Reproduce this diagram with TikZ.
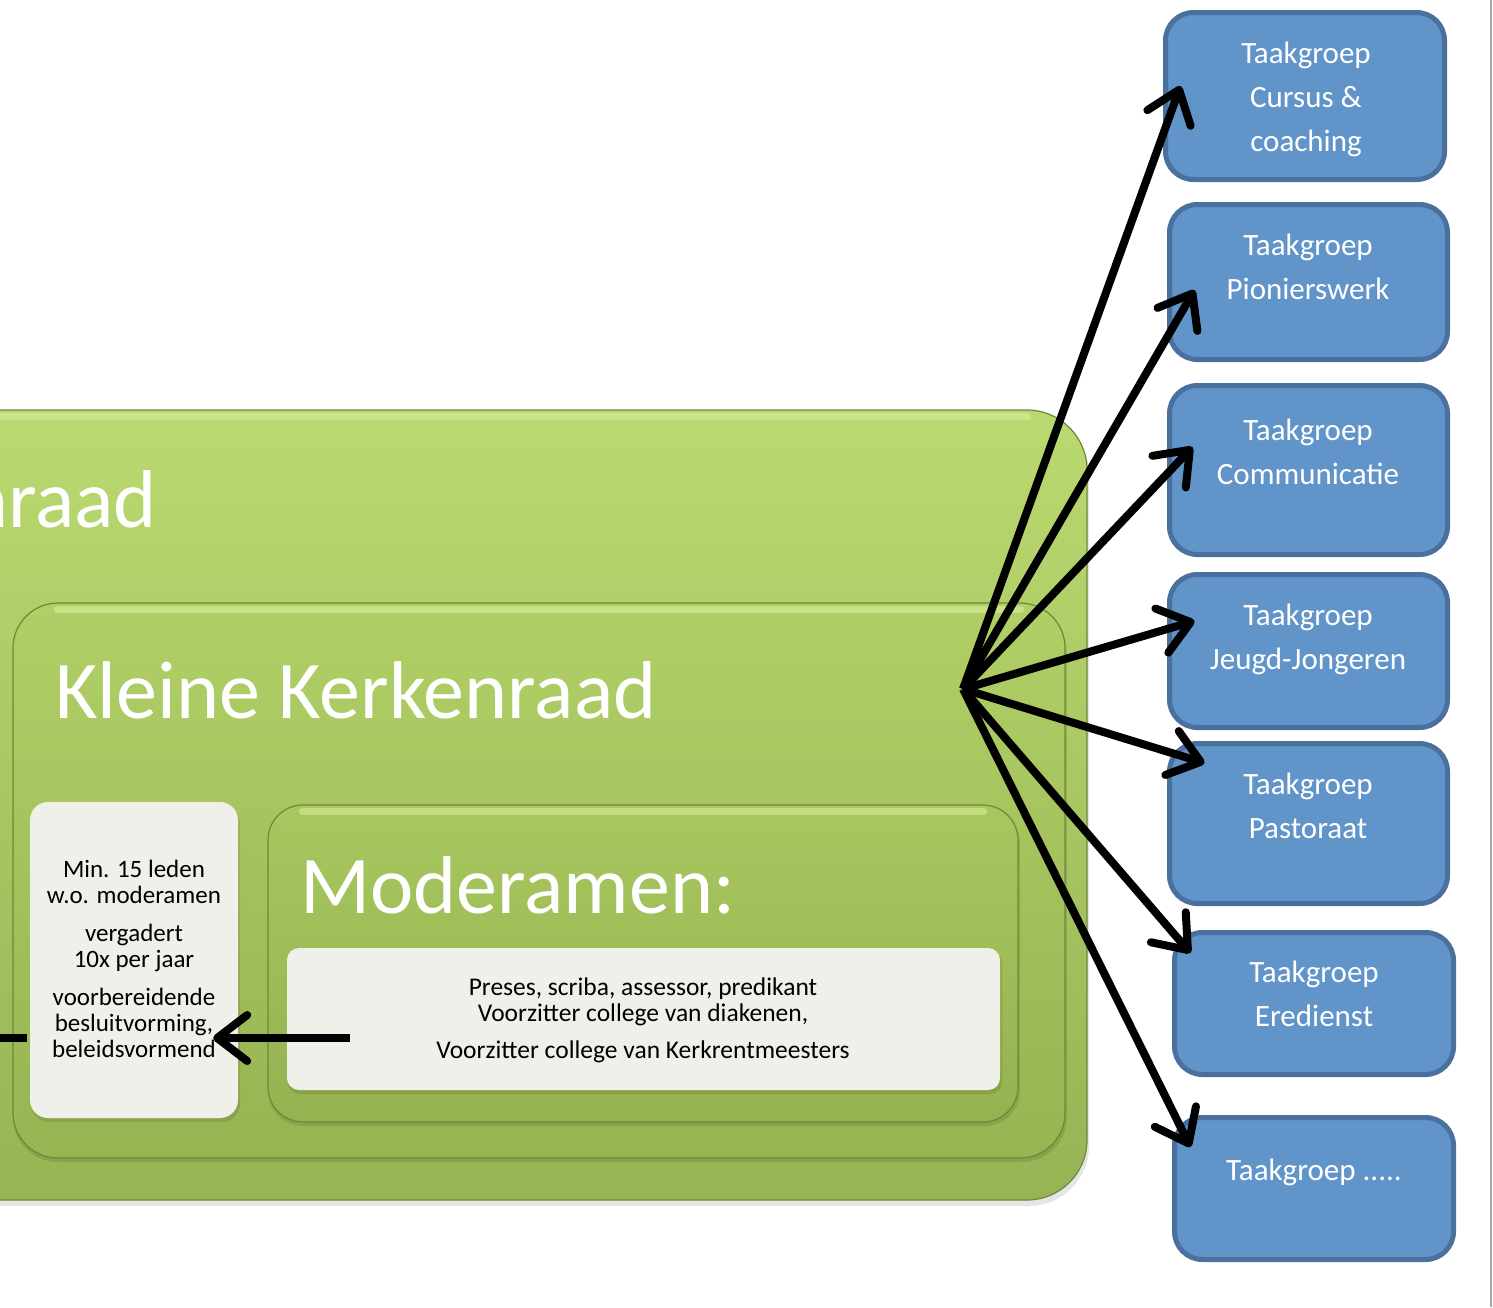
\documentclass[tikz,border=0pt]{standalone}
\usepackage{fontspec}
\setmainfont{Carlito}
\usetikzlibrary{arrows.meta,calc}
\definecolor{gOutTop}{RGB}{186,217,112}
\definecolor{gOutBot}{RGB}{150,180,84}
\definecolor{gKlTop}{RGB}{176,207,102}
\definecolor{gKlBot}{RGB}{150,181,83}
\definecolor{gMoTop}{RGB}{168,199,95}
\definecolor{gMoBot}{RGB}{148,178,80}
\definecolor{gEdge}{RGB}{110,136,58}
\definecolor{gHi}{RGB}{218,236,152}
\definecolor{paper}{RGB}{239,240,234}
\definecolor{tgFill}{RGB}{97,148,201}
\definecolor{tgEdge}{RGB}{74,113,158}
\tikzset{
  greenbox/.style={draw=gEdge, line width=1.2pt, inner sep=0pt},
  gloss/.style={draw=gHi, line width=7pt, opacity=0.6, line cap=round},
  whitebox/.style={fill=paper, draw=none, inner sep=0pt},
  boxshadow/.style={fill=black, opacity=0.10},
  tgbox/.style={draw=tgEdge, fill=tgFill, line width=5pt, rounded corners=28pt, inner sep=0pt},
  tgtext/.style={text=white, font=\fontsize{31}{44}\selectfont, align=center, inner sep=0pt, anchor=north},
  title/.style={text=white, font=\fontsize{82}{90}\selectfont, inner sep=0pt},
  small/.style={text=black, font=\fontsize{25}{26}\selectfont, align=center, inner sep=0pt, anchor=north},
  link/.style={line width=8pt, -{Straight Barb[length=30pt,width=46pt,round]}},
}
\begin{document}
\begin{tikzpicture}[x=1pt,y=-1pt]
\useasboundingbox (0,0) rectangle (1493,1307);
\fill[white] (0,0) rectangle (1493,1307);
\begin{scope}
\clip (0,0) rectangle (1493,1307);
% outer box: Kerkenraad
\fill[boxshadow, rounded corners=60pt] (-80,414) rectangle (1089,1206);
\node[greenbox, top color=gOutTop, bottom color=gOutBot, rounded corners=60pt,
      minimum width=1167pt, minimum height=790pt] (outer) at (503.5,805) {};
\draw[gloss] ($(outer.north west)+(0,7)$) -- ($(outer.north east)+(-60,7)$);
\node[title, anchor=base east] (outertitle) at (157,527) {Kerkenraad};
% Kleine Kerkenraad
\fill[boxshadow, rounded corners=45pt] (13,607) rectangle (1067,1162);
\node[greenbox, top color=gKlTop, bottom color=gKlBot, rounded corners=45pt,
      minimum width=1052pt, minimum height=555pt] (klein) at (539,880.5) {};
\draw[gloss] ($(klein.north west)+(45,7)$) -- ($(klein.north east)+(-45,7)$);
\node[title, anchor=base west] (kleintitle) at (55,718) {Kleine Kerkenraad};
% Moderamen
\fill[boxshadow, rounded corners=35pt] (268,808) rectangle (1020,1126);
\node[greenbox, top color=gMoTop, bottom color=gMoBot, rounded corners=35pt,
      minimum width=750pt, minimum height=317pt] (moder) at (643,963.5) {};
\draw[gloss] ($(moder.north west)+(35,7)$) -- ($(moder.north east)+(-35,7)$);
\node[title, anchor=base west] (modertitle) at (300,913) {Moderamen:};
% white boxes
\fill[boxshadow, rounded corners=12pt] (288,951) rectangle (1002,1094);
\node[whitebox, rounded corners=12pt, minimum width=713pt, minimum height=142pt] (memo) at (643.5,1019) {};
\fill[boxshadow, rounded corners=18pt] (31,805) rectangle (240,1122);
\node[whitebox, rounded corners=18pt, minimum width=208pt, minimum height=316pt] (info) at (134,960) {};
\node[small, font=\fontsize{25.5}{26}\selectfont] (memotext) at (643,977) {\rule{0pt}{18pt}Preses, scriba, assessor, predikant\\Voorzitter college van diakenen,\\[11pt]Voorzitter college van Kerkrentmeesters};
\node[small] (infotext) at (134,859) {\rule{0pt}{18pt}Min. 15 leden\\w.o. moderamen\\[12pt]vergadert\\10x per jaar\\[12pt]voorbereidende\\besluitvorming,\\beleidsvormend};
% stub and arrow on the left
\coordinate (stubL) at (-5,1038);
\coordinate (stubR) at ($(info.west)+(-3,78)$);
\draw[line width=8pt] (stubL) -- (stubR);
\draw[link] ($(memo.west)+(63,19)$) -- ($(info.east)+(-25,78)$);
\end{scope}
% task group boxes
\node[tgbox, minimum width=279pt, minimum height=167pt] (t1) at (1305,96) {};
\node[tgbox, minimum width=278pt, minimum height=155pt] (t2) at (1308.5,282) {};
\node[tgbox, minimum width=278pt, minimum height=169pt] (t3) at (1308.5,470) {};
\node[tgbox, minimum width=278pt, minimum height=153pt] (t4) at (1308.5,651) {};
\node[tgbox, minimum width=278pt, minimum height=160pt] (t5) at (1308.5,823.5) {};
\node[tgbox, minimum width=279pt, minimum height=142pt] (t6) at (1314,1003.5) {};
\node[tgbox, minimum width=279pt, minimum height=142pt] (t7) at (1314,1188.5) {};
\node[tgtext] (t1text) at (1306,39) {\rule{0pt}{24pt}Taakgroep\\Cursus \&\\coaching};
\node[tgtext] (t2text) at (1308,231) {\rule{0pt}{24pt}Taakgroep\\Pionierswerk};
\node[tgtext] (t3text) at (1308,416) {\rule{0pt}{24pt}Taakgroep\\Communicatie};
\node[tgtext] (t4text) at (1308,601) {\rule{0pt}{24pt}Taakgroep\\Jeugd-Jongeren};
\node[tgtext] (t5text) at (1308,770) {\rule{0pt}{24pt}Taakgroep\\Pastoraat};
\node[tgtext] (t6text) at (1314,958) {\rule{0pt}{24pt}Taakgroep\\Eredienst};
\node[tgtext] (t7text) at (1314,1156) {\rule{0pt}{24pt}Taakgroep .....};
% arrows from hub
\coordinate (hub) at (963,689);
\draw[link] (hub) -- ($(t1.west)+(17.5,-10)$);
\draw[link] (hub) -- ($(t2.west)+(27.5,8)$);
\draw[link] (hub) -- ($(t3.west)+(25.5,-23)$);
\draw[link] (hub) -- ($(t4.west)+(27.5,-30)$);
\draw[link] (hub) -- ($(t5.west)+(37.5,-60.5)$);
\draw[link] (hub) -- ($(t6.west)+(18.5,-50.5)$);
\draw[link] (hub) -- ($(t7.west)+(18.5,-41.5)$);
% right page edge
\coordinate (edgeTop) at (1491,0);
\coordinate (edgeBot) at (1491,1307);
\draw[black!35, line width=2pt] (edgeTop) -- (edgeBot);
\end{tikzpicture}
\end{document}
